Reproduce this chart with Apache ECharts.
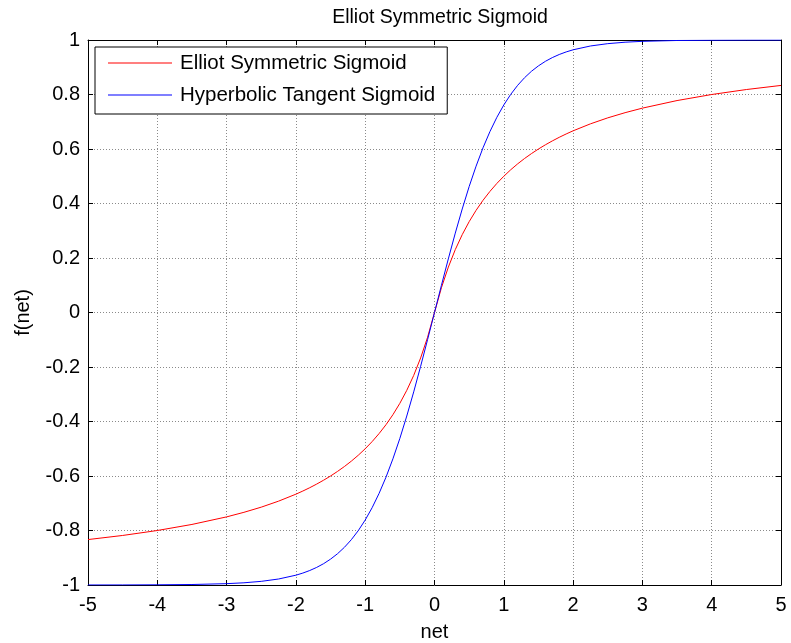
<!DOCTYPE html>
<html><head><meta charset="utf-8">
<script src="https://cdn.jsdelivr.net/npm/echarts@6/dist/echarts.min.js"></script>
<style>html,body{margin:0;padding:0;background:#fff}#c{width:791px;height:643px}</style>
</head><body><div id="c"></div>
<script>
var netValues = [-5,-4.5,-4,-3.5,-3,-2.75,-2.5,-2.25,-2,-1.9,-1.8,-1.7,-1.6,-1.5,-1.4,-1.3,-1.2,-1.1,-1,-0.9,-0.8,-0.7,-0.6,-0.5,-0.4,-0.3,-0.2,-0.1,0,0.1,0.2,0.3,0.4,0.5,0.6,0.7,0.8,0.9,1,1.1,1.2,1.3,1.4,1.5,1.6,1.7,1.8,1.9,2,2.25,2.5,2.75,3,3.5,4,4.5,5];
var elliotValues = [-0.8333,-0.8182,-0.8,-0.7778,-0.75,-0.7333,-0.7143,-0.6923,-0.6667,-0.6552,-0.6429,-0.6296,-0.6154,-0.6,-0.5833,-0.5652,-0.5455,-0.5238,-0.5,-0.4737,-0.4444,-0.4118,-0.375,-0.3333,-0.2857,-0.2308,-0.1667,-0.0909,0,0.0909,0.1667,0.2308,0.2857,0.3333,0.375,0.4118,0.4444,0.4737,0.5,0.5238,0.5455,0.5652,0.5833,0.6,0.6154,0.6296,0.6429,0.6552,0.6667,0.6923,0.7143,0.7333,0.75,0.7778,0.8,0.8182,0.8333];
var tanhValues = [-0.9999,-0.9998,-0.9993,-0.9982,-0.9951,-0.9919,-0.9866,-0.978,-0.964,-0.9562,-0.9468,-0.9354,-0.9217,-0.9051,-0.8854,-0.8617,-0.8337,-0.8005,-0.7616,-0.7163,-0.664,-0.6044,-0.537,-0.4621,-0.3799,-0.2913,-0.1974,-0.0997,0,0.0997,0.1974,0.2913,0.3799,0.4621,0.537,0.6044,0.664,0.7163,0.7616,0.8005,0.8337,0.8617,0.8854,0.9051,0.9217,0.9354,0.9468,0.9562,0.964,0.978,0.9866,0.9919,0.9951,0.9982,0.9993,0.9998,0.9999];
var seriesNames = ['Elliot Symmetric Sigmoid','Hyperbolic Tangent Sigmoid'];
var xTicks = {min:-5, max:5, interval:1};
var yTicks = {min:-1, max:1, interval:0.2};

function pairs(xs, ys){ return xs.map(function(x,i){return [x, ys[i]];}); }

var font = 'Liberation Sans, Arial, sans-serif';
var chart = echarts.init(document.getElementById('c'), null, {renderer:'canvas'});
var tickStyle = {show:true, inside:true, length:5, lineStyle:{color:'#000', width:1}};
var gridStyle = {show:true, lineStyle:{color:'#8a8a8a', type:[1,2], width:1}};
chart.setOption({
  animation:false,
  backgroundColor:'#fff',
  title:{text:'Elliot Symmetric Sigmoid', left:435, textAlign:'center', top:3, textStyle:{fontFamily:font, fontSize:19.5, fontWeight:'normal', color:'#000'}},
  grid:{left:88, right:10, top:40, bottom:58, containLabel:false, outerBoundsMode:'none'},
  legend:{
    orient:'vertical', left:95, top:47, data:seriesNames,
    icon:'rect', itemWidth:64, itemHeight:1, itemGap:8,
    padding:[4,12,7,13], borderColor:'#000', borderWidth:1, backgroundColor:'#fff',
    textStyle:{fontFamily:font, fontSize:20.5, color:'#000', lineHeight:24, padding:[0,0,0,3]}
  },
  xAxis:[{
    type:'value', min:xTicks.min, max:xTicks.max, interval:xTicks.interval,
    name:'net', nameLocation:'middle', nameGap:37,
    nameTextStyle:{fontFamily:font, fontSize:20, color:'#000'},
    axisLine:{show:true, onZero:false, lineStyle:{color:'#000', width:1}},
    axisTick:tickStyle, splitLine:gridStyle,
    axisLabel:{fontFamily:font, fontSize:20, color:'#000', margin:10}
  },{
    type:'value', position:'top', min:xTicks.min, max:xTicks.max, interval:xTicks.interval,
    axisLine:{show:true, onZero:false, lineStyle:{color:'#000', width:1}},
    axisTick:tickStyle, splitLine:{show:false}, axisLabel:{show:false}
  }],
  yAxis:[{
    type:'value', min:yTicks.min, max:yTicks.max, interval:yTicks.interval,
    name:'f(net)', nameLocation:'middle', nameGap:55, nameRotate:90,
    nameTextStyle:{fontFamily:font, fontSize:20, color:'#000'},
    axisLine:{show:true, onZero:false, lineStyle:{color:'#000', width:1}},
    axisTick:tickStyle, splitLine:gridStyle,
    axisLabel:{fontFamily:font, fontSize:20, color:'#000', margin:8,
      formatter:function(v){return String(Math.round(v*10)/10);}}
  },{
    type:'value', position:'right', min:yTicks.min, max:yTicks.max, interval:yTicks.interval,
    axisLine:{show:true, onZero:false, lineStyle:{color:'#000', width:1}},
    axisTick:tickStyle, splitLine:{show:false}, axisLabel:{show:false}
  }],
  series:[{
    name:seriesNames[0], type:'line', data:pairs(netValues, elliotValues),
    symbol:'none', lineStyle:{color:'#ff0000', width:1}, itemStyle:{color:'#ff0000'}
  },{
    name:seriesNames[1], type:'line', data:pairs(netValues, tanhValues),
    symbol:'none', lineStyle:{color:'#0000ff', width:1}, itemStyle:{color:'#0000ff'}
  }]
});
</script></body></html>
